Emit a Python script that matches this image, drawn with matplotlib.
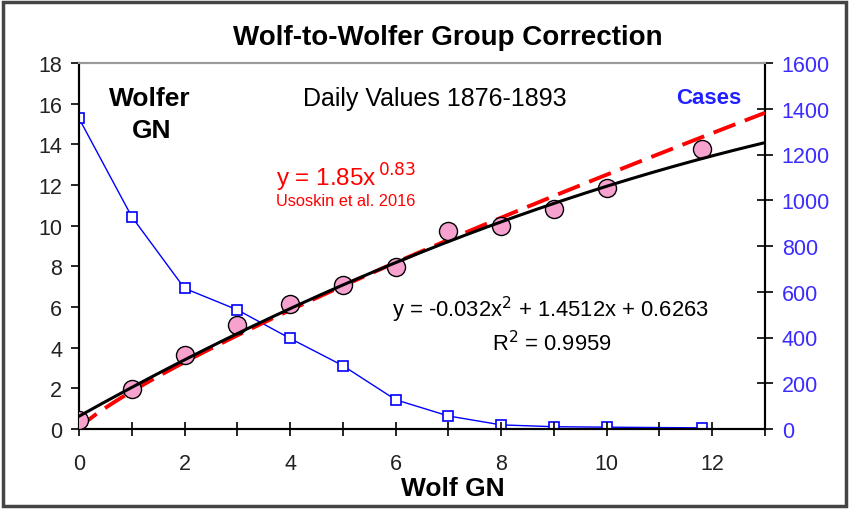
import numpy as np
import matplotlib
matplotlib.use('Agg')
import matplotlib.pyplot as plt
from matplotlib.patches import Rectangle

plt.rcParams['font.family'] = ['Liberation Sans', 'DejaVu Sans']

# Wolf GN vs Wolfer GN (daily values 1876-1893)
wolf_gn = [0, 1, 2, 3, 4, 5, 6, 7, 8, 9, 10, 11.8]
wolfer_gn = [0.45, 1.97, 3.66, 5.12, 6.14, 7.1, 7.95, 9.73, 9.97, 10.84, 11.83, 13.75]
cases = [1358, 928, 615, 521, 396, 277, 128, 57, 18, 10, 8, 5]

# trend lines as printed on the chart
quad_coef = [-0.032, 1.4512, 0.6263]
pow_a, pow_b = 1.85, 0.83

x_fit = np.linspace(0, 13, 200)
y_quad = np.polyval(quad_coef, x_fit)
y_pow = pow_a * x_fit ** pow_b

fig = plt.figure(figsize=(8.49, 5.10), dpi=100)
ax1 = fig.add_axes([79 / 849, 80 / 510, 686 / 849, 366 / 510])
ax2 = ax1.twinx()

# blue cases on the right axis
ax2.plot(wolf_gn, cases, '-', color='#0000ff', lw=1, marker='s', ms=6.5,
         mfc='white', mec='#0000ff', mew=1.2, zorder=2)

ax1.set_zorder(ax2.get_zorder() + 1)
ax1.patch.set_visible(False)
ax1.plot(x_fit, y_pow, '--', color='#ff0000', lw=2.8, dashes=(6, 2.6), zorder=3)
ax1.plot(wolf_gn, wolfer_gn, 'o', color='#f7a1cf', ms=13, mec='black', mew=1, zorder=4)
ax1.plot(x_fit, y_quad, '-', color='black', lw=2.2, zorder=5)

ax1.set_xlim(0, 13)
ax1.set_ylim(0, 18)
ax2.set_ylim(0, 1600)
ax1.set_xticks(np.arange(0, 13, 2))
ax1.set_xticks(np.arange(0, 14, 1), minor=True)
ax1.set_yticks(np.arange(0, 19, 2))
ax2.set_yticks(np.arange(0, 1601, 200))

ax1.tick_params(axis='x', which='both', direction='inout', length=10, width=1.2,
                pad=12, labelsize=15.5, labelcolor='#222222')
ax1.tick_params(axis='y', direction='out', length=6, width=1.2, pad=6,
                labelsize=15.5, labelcolor='#222222')
ax2.tick_params(axis='y', direction='inout', length=12, width=1.2, pad=6,
                labelsize=15.5, labelcolor='#3a2cff')

for ax in (ax1, ax2):
    ax.spines['top'].set_color('#9a9a9a')
    ax.spines['top'].set_linewidth(1.5)
    for s in ('left', 'bottom', 'right'):
        ax.spines[s].set_linewidth(1.5)
        ax.spines[s].set_color('black')

fig.text(453 / 849, 1 - 489 / 510, 'Wolf GN', ha='center', va='center',
         fontsize=19, fontweight='bold')
fig.text(448 / 849, 1 - 38 / 510, 'Wolf-to-Wolfer Group Correction', ha='center',
         va='center', fontsize=20, fontweight='bold')
ax1.text(1.35, 16.3, 'Wolfer', ha='center', va='center', fontsize=19, fontweight='bold')
ax1.text(1.37, 14.7, 'GN', ha='center', va='center', fontsize=19, fontweight='bold')
ax1.text(6.75, 16.3, 'Daily Values 1876-1893', ha='center', va='center', fontsize=18)
ax1.text(11.94, 16.3, 'Cases', ha='center', va='center', fontsize=16, fontweight='bold',
         color='#2020ff')
ax1.text(5.06, 12.4, r'y = 1.85x$^{\,0.83}$', ha='center', va='center', fontsize=17.5,
         color='#ff0000')
ax1.text(5.06, 11.25, 'Usoskin et al. 2016', ha='center', va='center', fontsize=11.8,
         color='#ff0000')
ax1.text(8.93, 5.89, r'y = -0.032x$^2$ + 1.4512x + 0.6263', ha='center', va='center',
         fontsize=15.8)
ax1.text(8.95, 4.27, r'R$^2$ = 0.9959', ha='center', va='center', fontsize=15.8)

fig.patches.append(Rectangle((0.004, 0.006), 0.992, 0.988, transform=fig.transFigure,
                             fill=False, edgecolor='#444444', lw=2.5))

fig.savefig('out.png', dpi=100)
